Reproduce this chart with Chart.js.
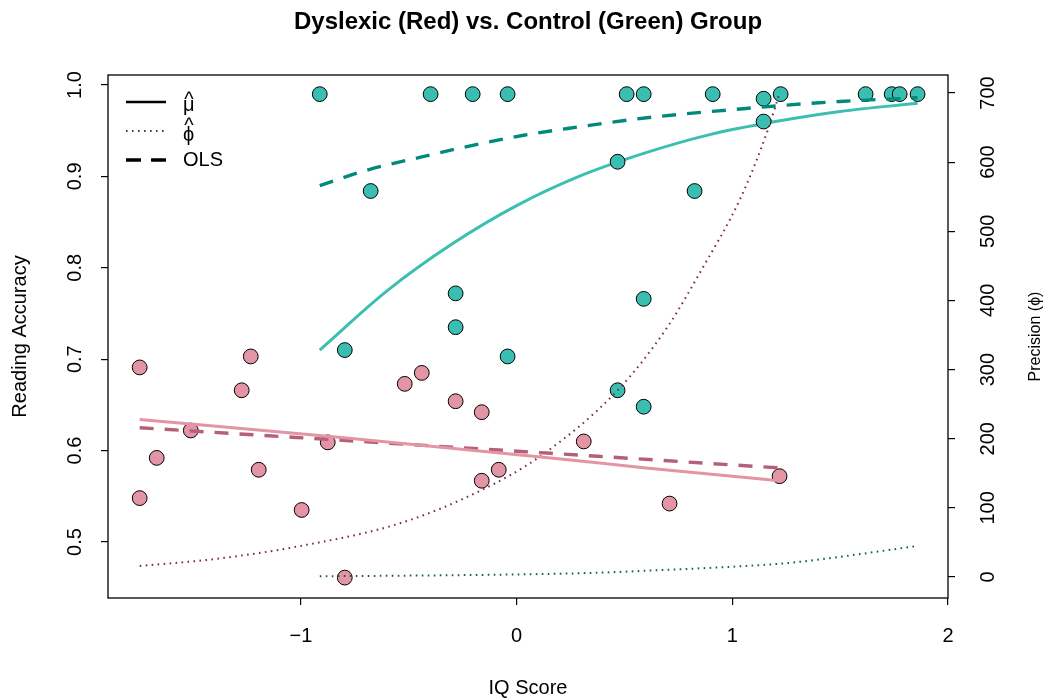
<!DOCTYPE html>
<html>
<head>
<meta charset="utf-8">
<script src="https://cdn.jsdelivr.net/npm/chart.js@4/dist/chart.umd.min.js"></script>
<style>
  body { margin: 0; background: #fff; }
</style>
</head>
<body>
<canvas id="chart" width="1047" height="700"></canvas>
<script>
// dyslexic group (red)
var redX = [-1.748, -1.748, -1.669, -1.511, -1.275, -1.233, -1.196, -0.997, -0.876, -0.797,
            -0.519, -0.440, -0.283, -0.162, -0.162, -0.083, 0.311, 0.709, 1.219];
var redY = [0.691, 0.548, 0.592, 0.622, 0.666, 0.703, 0.579, 0.535, 0.609, 0.461,
            0.673, 0.685, 0.654, 0.642, 0.567, 0.579, 0.610, 0.542, 0.572];
// control group (green)
var greenX = [-0.913, -0.797, -0.677, -0.399, -0.283, -0.283, -0.204, -0.042, -0.042, 0.468,
              0.468, 0.510, 0.589, 0.589, 0.589, 0.825, 0.909, 1.145, 1.145, 1.224,
              1.618, 1.739, 1.776, 1.859];
var greenY = [0.990, 0.710, 0.884, 0.990, 0.772, 0.735, 0.990, 0.990, 0.703, 0.916,
              0.666, 0.990, 0.990, 0.766, 0.648, 0.884, 0.990, 0.985, 0.960, 0.990,
              0.990, 0.990, 0.990, 0.990];

// fitted curves
var greenMuX = [-0.913, -0.6, -0.3, 0, 0.3, 0.6, 0.9, 1.2, 1.5, 1.859];
var greenMuY = [0.710, 0.775, 0.826, 0.868, 0.901, 0.926, 0.946, 0.960, 0.971, 0.980];
var greenOlsX = [-0.913, -0.677, -0.445, -0.204, 0.032, 0.283, 0.528, 0.76, 1.0, 1.25, 1.5, 1.859];
var greenOlsY = [0.890, 0.908, 0.921, 0.934, 0.945, 0.954, 0.962, 0.968, 0.973, 0.978, 0.982, 0.986];
var greenPhiX = [-0.913, -0.5, 0, 0.389, 0.668, 1.006, 1.25, 1.47, 1.859];
var greenPhiY = [1.1, 2, 3.7, 6.3, 10, 15, 20, 28, 45];

var redMuX = [-1.748, -0.8, 0.158, 0.6, 1.219];
var redMuY = [0.634, 0.614, 0.592, 0.581, 0.567];
var redOlsX = [-1.748, 0.158, 1.219];
var redOlsY = [0.625, 0.597, 0.581];
var redPhiX = [-1.748, -1.4, -1.0, -0.538, -0.167, 0.111, 0.468, 0.70, 0.853, 1.038, 1.164, 1.219];
var redPhiY = [16, 26, 45, 78, 125, 175, 270, 362, 442, 548, 646, 700];

var xTicks = [-1, 0, 1, 2];
var yTicks = [0.5, 0.6, 0.7, 0.8, 0.9, 1.0];
var y2Ticks = [0, 100, 200, 300, 400, 500, 600, 700];

var FONT = "'Liberation Sans', Arial, sans-serif";

function pts(xs, ys) {
  return xs.map(function (x, i) { return { x: x, y: ys[i] }; });
}

function curve(xs, ys, color, width, dash, axis, order) {
  return {
    type: 'line',
    data: pts(xs, ys),
    yAxisID: axis,
    borderColor: color,
    borderWidth: width,
    borderDash: dash,
    pointRadius: 0,
    fill: false,
    cubicInterpolationMode: 'monotone',
    order: order
  };
}

// rotated tick labels, right axis title, legend and box
var decorations = {
  id: 'decorations',
  afterDraw: function (chart) {
    var ctx = chart.ctx;
    var a = chart.chartArea;
    ctx.save();
    ctx.fillStyle = '#000';
    ctx.font = '20px ' + FONT;
    ctx.textAlign = 'center';
    ctx.textBaseline = 'middle';
    yTicks.forEach(function (v) {
      var py = chart.scales.y.getPixelForValue(v);
      ctx.save();
      ctx.translate(75, py);
      ctx.rotate(-Math.PI / 2);
      ctx.fillText(v.toFixed(1), 0, 0);
      ctx.restore();
    });
    y2Ticks.forEach(function (v) {
      var py = chart.scales.y2.getPixelForValue(v);
      ctx.save();
      ctx.translate(988, py);
      ctx.rotate(-Math.PI / 2);
      ctx.fillText(String(v), 0, 0);
      ctx.restore();
    });
    ctx.font = '16px ' + FONT;
    ctx.save();
    ctx.translate(1036, (a.top + a.bottom) / 2);
    ctx.rotate(-Math.PI / 2);
    ctx.fillText('Precision (\u03D5)', 0, 0);
    ctx.restore();

    // box
    ctx.strokeStyle = '#000';
    ctx.lineWidth = 1.3;
    ctx.strokeRect(a.left, a.top, a.right - a.left, a.bottom - a.top);

    // legend
    var lx0 = 126, lx1 = 166;
    var rows = [
      { y: 102, w: 2.7, dash: [] },
      { y: 131, w: 1.6, dash: [1.6, 4.4] },
      { y: 160, w: 3.4, dash: [15, 10] }
    ];
    rows.forEach(function (r) {
      ctx.beginPath();
      ctx.lineWidth = r.w;
      ctx.setLineDash(r.dash);
      ctx.moveTo(lx0, r.y);
      ctx.lineTo(lx1, r.y);
      ctx.stroke();
    });
    ctx.setLineDash([]);
    ctx.font = '20px ' + FONT;
    ctx.textBaseline = 'alphabetic';
    ctx.textAlign = 'left';
    // mu hat
    ctx.fillText('\u03BC', 183, 111);
    ctx.textAlign = 'center';
    ctx.fillText('^', 189, 106);
    // phi hat
    ctx.textAlign = 'left';
    ctx.fillText('\u03D5', 183, 141);
    ctx.textAlign = 'center';
    ctx.fillText('^', 189, 132);
    ctx.textAlign = 'left';
    ctx.textBaseline = 'middle';
    ctx.fillText('OLS', 183, 160);
    ctx.restore();
  }
};

function tickGrid() {
  return { drawOnChartArea: false, drawTicks: true, tickLength: 7, color: '#000', lineWidth: 1.2 };
}

new Chart(document.getElementById('chart'), {
  type: 'scatter',
  data: {
    datasets: [
      curve(greenMuX, greenMuY, '#3CBFB0', 3, [], 'y', 3),
      {
        label: 'Dyslexic',
        data: pts(redX, redY),
        yAxisID: 'y',
        backgroundColor: '#E495A5',
        borderColor: '#000',
        borderWidth: 1,
        pointRadius: 7.4,
        order: 2
      },
      {
        label: 'Control',
        data: pts(greenX, greenY),
        yAxisID: 'y',
        backgroundColor: '#39BEB1',
        borderColor: '#000',
        borderWidth: 1,
        pointRadius: 7.4,
        order: 2
      },
      curve(greenOlsX, greenOlsY, '#008A7A', 3.4, [14, 11], 'y', 1),
      curve(greenPhiX, greenPhiY, '#175E50', 2, [1.6, 4.4], 'y2', 1),
      curve(redMuX, redMuY, '#E495A5', 3, [], 'y', 1),
      curve(redOlsX, redOlsY, '#B4607A', 3.4, [14, 11], 'y', 1),
      curve(redPhiX, redPhiY, '#7A2C4C', 2, [1.6, 4.4], 'y2', 1)
    ]
  },
  options: {
    responsive: false,
    animation: false,
    layout: { padding: 0 },
    plugins: {
      legend: { display: false },
      tooltip: { enabled: false },
      title: {
        display: true,
        fullSize: false,
        text: 'Dyslexic (Red) vs. Control (Green) Group',
        color: '#000',
        font: { family: FONT, size: 24, weight: 'bold' },
        padding: { top: 8, bottom: 38.2 }
      }
    },
    scales: {
      x: {
        type: 'linear',
        position: 'bottom',
        min: -1.8949,
        max: 2.0,
        afterBuildTicks: function (s) { s.ticks = xTicks.map(function (v) { return { value: v }; }); },
        afterFit: function (s) { s.height = 102; },
        grid: tickGrid(),
        border: { display: false },
        ticks: {
          color: '#000',
          font: { family: FONT, size: 20 },
          padding: 19,
          maxRotation: 0,
          callback: function (v) { return v < 0 ? '\u2212' + Math.abs(v) : String(v); }
        },
        title: {
          display: true,
          text: 'IQ Score',
          color: '#000',
          font: { family: FONT, size: 20 },
          padding: { top: 0, bottom: 0 }
        }
      },
      y: {
        type: 'linear',
        position: 'left',
        min: 0.4387,
        max: 1.01094,
        afterBuildTicks: function (s) { s.ticks = yTicks.map(function (v) { return { value: v }; }); },
        afterFit: function (s) { s.width = 108; },
        grid: tickGrid(),
        border: { display: false },
        ticks: { display: false },
        title: {
          display: true,
          text: 'Reading Accuracy',
          color: '#000',
          font: { family: FONT, size: 20 },
          padding: { top: 8, bottom: 0 }
        }
      },
      y2: {
        type: 'linear',
        position: 'right',
        min: -30.37,
        max: 726.03,
        afterBuildTicks: function (s) { s.ticks = y2Ticks.map(function (v) { return { value: v }; }); },
        afterFit: function (s) { s.width = 99; },
        grid: tickGrid(),
        border: { display: false },
        ticks: { display: false }
      }
    }
  },
  plugins: [decorations]
});
</script>
</body>
</html>
